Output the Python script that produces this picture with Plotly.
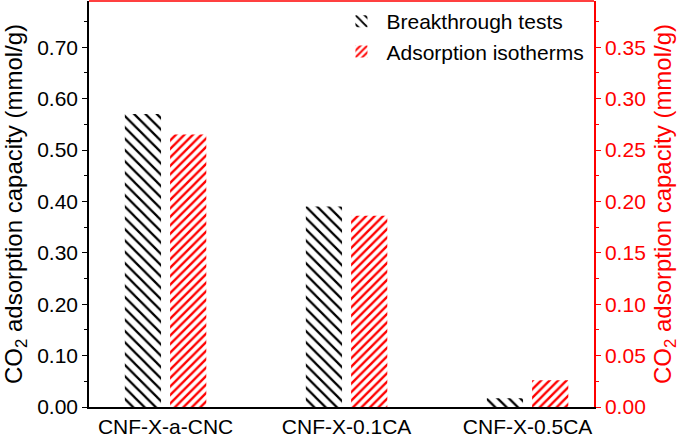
import plotly.graph_objects as go

categories = ["CNF-X-a-CNC", "CNF-X-0.1CA", "CNF-X-0.5CA"]
breakthrough = [0.57, 0.39, 0.017]      # left axis (mmol/g)
isotherms = [0.265, 0.186, 0.026]        # right axis (mmol/g)

xpos = list(range(len(categories)))
FONT = "Liberation Sans, Arial, sans-serif"

fig = go.Figure()
fig.add_trace(go.Bar(
    x=xpos, y=breakthrough, name="Breakthrough tests",
    width=0.2, offset=-0.225,
    marker=dict(color="white", line=dict(width=0),
                pattern=dict(shape="\\", fgcolor="black", bgcolor="white",
                             size=8, solidity=0.28, fgopacity=1, fillmode="replace")),
    yaxis="y",
))
fig.add_trace(go.Bar(
    x=xpos, y=isotherms, name="Adsorption isotherms",
    width=0.2, offset=0.025,
    marker=dict(color="white", line=dict(width=0),
                pattern=dict(shape="/", fgcolor="red", bgcolor="white",
                             size=6, solidity=0.4, fgopacity=1, fillmode="replace")),
    yaxis="y2",
))

fig.update_layout(
    width=685, height=440,
    margin=dict(l=89, r=91, t=1, b=33),
    paper_bgcolor="white", plot_bgcolor="white",
    font=dict(family=FONT, size=20, color="black"),
    showlegend=True,
    legend=dict(x=0.49, y=1.0, xanchor="left", yanchor="top",
                bgcolor="rgba(0,0,0,0)", font=dict(size=21), tracegroupgap=0,
                itemwidth=40),
    xaxis=dict(range=[-0.423, 2.367], tickvals=xpos, ticktext=categories,
               showline=True, linecolor="black", linewidth=1.5,
               ticks="", showgrid=False, zeroline=False,
               tickfont=dict(size=21)),
    yaxis=dict(range=[0, 0.79], dtick=0.1, tickformat=".2f",
               showline=True, linecolor="black", linewidth=1.5,
               ticks="outside", ticklen=5, tickwidth=1.2, tickcolor="black",
               minor=dict(ticks="outside", dtick=0.05, ticklen=3, tickcolor="black"),
               showgrid=False, zeroline=False,
               title=dict(text="CO<sub>2</sub> adsorption capacity (mmol/g)",
                          font=dict(size=24), standoff=9),
               tickfont=dict(size=21)),
    yaxis2=dict(range=[0, 0.395], dtick=0.05, tickformat=".2f",
                overlaying="y", side="right",
                showline=True, linecolor="red", linewidth=1.5,
                ticks="outside", ticklen=5, tickwidth=1.2, tickcolor="red",
                minor=dict(ticks="outside", dtick=0.025, ticklen=3, tickcolor="red"),
                showgrid=False, zeroline=False,
                tickfont=dict(size=21, color="red"),
                title=dict(text="CO<sub>2</sub> adsorption capacity (mmol/g)",
                           font=dict(size=24, color="red"), standoff=9)),
    shapes=[dict(type="line", xref="paper", yref="paper", x0=0, x1=1, y0=1, y1=1,
                 line=dict(color="red", width=1.5))],
)

fig.write_html("out.html", config={"displayModeBar": False},
               post_script="document.body.style.margin='0';")
